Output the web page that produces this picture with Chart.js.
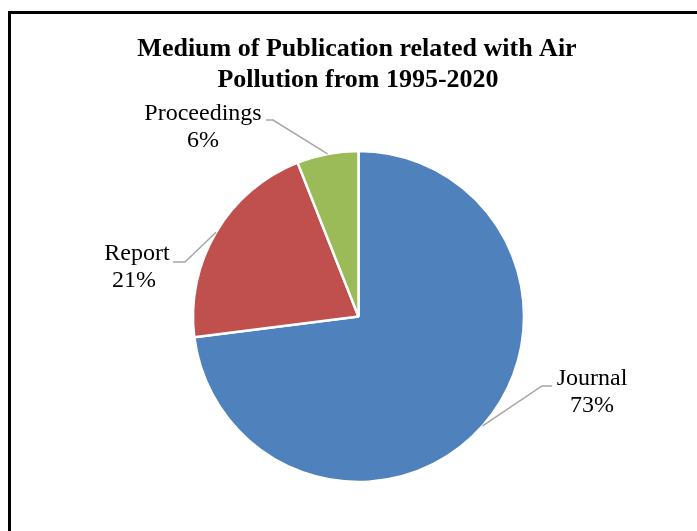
<!DOCTYPE html>
<html>
<head>
<meta charset="utf-8">
<script src="https://cdn.jsdelivr.net/npm/chart.js@4/dist/chart.umd.min.js"></script>
<style>
  html, body { margin: 0; padding: 0; background: #fff; }
  #wrap { position: relative; width: 697px; height: 531px; }
</style>
</head>
<body>
<div id="wrap"><canvas id="c" width="697" height="531"></canvas></div>
<script>
// Publication media, share of items (%)
const categories = ['Journal', 'Report', 'Proceedings'];
const shares = [73, 21, 6];
const sliceColors = ['#4F81BD', '#C0504D', '#9BBB59'];
const titleLines = ['Medium of Publication related with Air', 'Pollution from 1995-2020'];

const SERIF = '"Liberation Serif", "Times New Roman", serif';

function centredText(ctx, text, x, y, font) {
  ctx.save();
  ctx.font = font;
  ctx.textAlign = 'center';
  ctx.textBaseline = 'alphabetic';
  ctx.fillStyle = '#000';
  ctx.fillText(text, x, y);
  ctx.restore();
}

// Frame and heading
const framePlugin = {
  id: 'frame',
  beforeDraw(chart) {
    const ctx = chart.ctx;
    ctx.save();
    ctx.fillStyle = '#fff';
    ctx.fillRect(0, 0, chart.width, chart.height);
    ctx.strokeStyle = '#000';
    ctx.lineWidth = 3;
    ctx.beginPath();
    ctx.moveTo(9.5, chart.height);
    ctx.lineTo(9.5, 12.5);
    ctx.lineTo(chart.width, 12.5);
    ctx.stroke();
    ctx.restore();
    const font = 'bold 26px ' + SERIF;
    centredText(ctx, titleLines[0], 357, 56, font);
    centredText(ctx, titleLines[1], 358, 87, font);
  }
};

// Category / percentage callouts joined to each slice by a leader line
const calloutPlugin = {
  id: 'callouts',
  afterDatasetsDraw(chart, args, opts) {
    const ctx = chart.ctx;
    const meta = chart.getDatasetMeta(0);
    const data = chart.data.datasets[0].data;
    meta.data.forEach((arc, i) => {
      const p = arc.getProps(['x', 'y', 'startAngle', 'endAngle', 'outerRadius'], true);
      const mid = (p.startAngle + p.endAngle) / 2;
      const ex = p.x + Math.cos(mid) * p.outerRadius;
      const ey = p.y + Math.sin(mid) * p.outerRadius;
      const c = opts.spots[i];
      ctx.save();
      ctx.strokeStyle = '#A6A6A6';
      ctx.lineWidth = 1.5;
      ctx.beginPath();
      ctx.moveTo(c.lineStart[0], c.lineStart[1]);
      ctx.lineTo(c.elbow[0], c.elbow[1]);
      ctx.lineTo(ex, ey);
      ctx.stroke();
      ctx.restore();
      const font = '24px ' + SERIF;
      centredText(ctx, chart.data.labels[i], c.text[0], c.text[1], font);
      centredText(ctx, data[i] + '%', c.text[0] - (c.pctShift || 0), c.text[1] + 27, font);
    });
  }
};

new Chart(document.getElementById('c'), {
  type: 'pie',
  data: {
    labels: categories,
    datasets: [{
      data: shares,
      backgroundColor: sliceColors,
      borderColor: '#fff',
      borderWidth: 2.5,
      radius: 165.5
    }]
  },
  options: {
    responsive: false,
    animation: false,
    events: [],
    layout: { padding: { left: 194, right: 174, top: 151, bottom: 49 } },
    plugins: {
      legend: { display: false },
      title: { display: false },
      tooltip: { enabled: false },
      callouts: {
        spots: [
          { text: [592, 385], lineStart: [552, 386], elbow: [542, 386] },
          { text: [137, 260], lineStart: [173, 262], elbow: [185, 262], pctShift: 3 },
          { text: [203, 120], lineStart: [266, 120], elbow: [273, 120] }
        ]
      }
    }
  },
  plugins: [framePlugin, calloutPlugin]
});
</script>
</body>
</html>
